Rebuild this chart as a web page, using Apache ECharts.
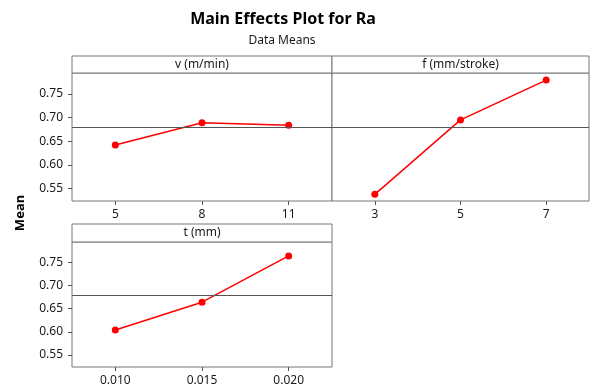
<!DOCTYPE html>
<html>
<head>
<meta charset="utf-8">
<script src="https://cdn.jsdelivr.net/npm/echarts@6/dist/echarts.min.js"></script>
<style>html,body{margin:0;padding:0;background:#fff}#c{width:595px;height:387px}</style>
</head>
<body>
<div id="c"></div>
<script>
const titleText = "Main Effects Plot for Ra";
const subtitleText = "Data Means";
const yLabel = "Mean";
const panelTitles = ["v (m/min)", "f (mm/stroke)", "t (mm)"];
const vLevels = ["5", "8", "11"];
const fLevels = ["3", "5", "7"];
const tLevels = ["0.010", "0.015", "0.020"];
const vMeans = [0.642, 0.689, 0.684];
const fMeans = [0.538, 0.695, 0.779];
const tMeans = [0.604, 0.664, 0.764];
const grandMean = 0.675;
const yTicks = [0.55, 0.60, 0.65, 0.70, 0.75];

const FONT = "Noto Sans";
const chart = echarts.init(document.getElementById('c'), null, {renderer: 'canvas'});
const grids = [
  {left: 72, top: 73, width: 260, height: 128},
  {left: 332, top: 73, width: 257, height: 128},
  {left: 72, top: 242, width: 260, height: 126}
];
const levels = [vLevels, fLevels, tLevels];
const means = [vMeans, fMeans, tMeans];

function xAxis(i) {
  return {
    type: 'category', gridIndex: i, data: levels[i], boundaryGap: true,
    axisLine: {show: false},
    axisTick: {show: true, alignWithLabel: true, length: 4, lineStyle: {color: '#555'}},
    axisLabel: {color: '#1a1a1a', fontFamily: FONT, fontSize: 12, margin: 8}
  };
}
function yAxis(i) {
  return {
    type: 'value', gridIndex: i, min: 0.524, max: 0.794,
    splitLine: {show: false}, axisLine: {show: false},
    axisTick: {show: i !== 1, length: 4, lineStyle: {color: '#555'}, customValues: yTicks},
    axisLabel: {show: i !== 1, color: '#1a1a1a', fontFamily: FONT, fontSize: 12, margin: 9,
      customValues: yTicks, formatter: v => v.toFixed(2)}
  };
}
function series(i) {
  return {
    type: 'line', xAxisIndex: i, yAxisIndex: i, data: means[i],
    symbol: 'circle', symbolSize: 7,
    lineStyle: {color: '#ff0000', width: 1.5},
    itemStyle: {color: '#ff0000'},
    markLine: {
      silent: true, symbol: 'none', label: {show: false},
      lineStyle: {color: '#555', width: 1, type: 'solid'},
      data: [{yAxis: grandMean}]
    },
    animation: false
  };
}
const headers = [
  {x: 72, y: 56, w: 260, h: 17},
  {x: 332, y: 56, w: 257, h: 17},
  {x: 72, y: 224, w: 260, h: 18}
];
const graphics = [];
headers.forEach((h, i) => {
  graphics.push({type: 'rect', shape: {x: h.x, y: h.y, width: h.w, height: h.h},
    style: {fill: '#fff', stroke: '#777', lineWidth: 1}});
  graphics.push({type: 'text', x: h.x + h.w / 2, y: h.y + h.h / 2,
    style: {text: panelTitles[i], font: '12px "' + FONT + '"', fill: '#1a1a1a', textAlign: 'center', textVerticalAlign: 'middle'}});
});
graphics.push({type: 'text', x: 283, y: 19,
  style: {text: titleText, font: 'bold 16px "' + FONT + '"', fill: '#000', textAlign: 'center', textVerticalAlign: 'middle'}});
graphics.push({type: 'text', x: 282, y: 41,
  style: {text: subtitleText, font: '12px "' + FONT + '"', fill: '#1a1a1a', textAlign: 'center', textVerticalAlign: 'middle'}});
graphics.push({type: 'text', x: 20, y: 213, rotation: Math.PI / 2,
  style: {text: yLabel, font: 'bold 13px "' + FONT + '"', fill: '#000', textAlign: 'center', textVerticalAlign: 'middle'}});

chart.setOption({
  animation: false,
  grid: grids.map(g => Object.assign({show: true, borderColor: '#777', borderWidth: 1, backgroundColor: '#fff'}, g)),
  xAxis: [0, 1, 2].map(xAxis),
  yAxis: [0, 1, 2].map(yAxis),
  series: [0, 1, 2].map(series),
  graphic: graphics
});
</script>
</body>
</html>
